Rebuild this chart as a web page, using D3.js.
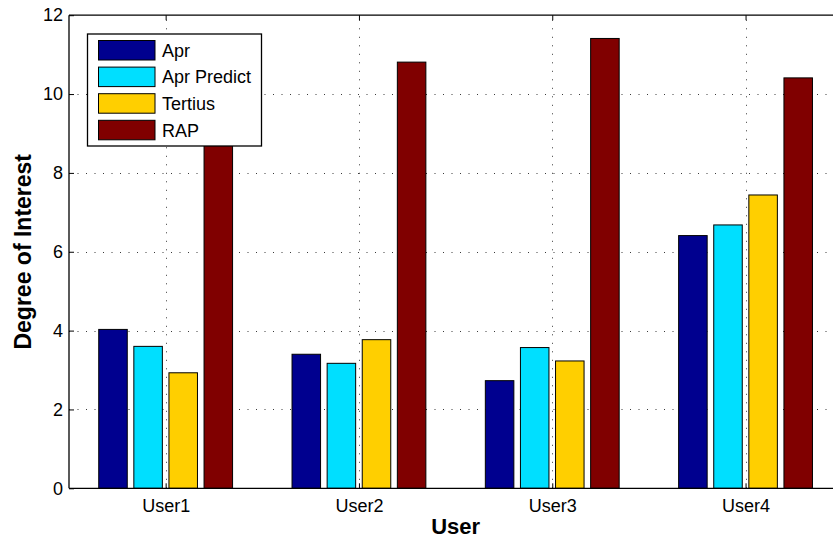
<!DOCTYPE html>
<html>
<head>
<meta charset="utf-8">
<script src="https://cdn.jsdelivr.net/npm/d3@7"></script>
<style>
  html, body { margin: 0; padding: 0; background: #fff; }
  svg { display: block; }
  text { font-family: "Liberation Sans", Arial, Helvetica, sans-serif; }
</style>
</head>
<body>
<svg id="chart" width="833" height="541"></svg>
<script>
// Degree of interest per user, four methods
const users = ["User1", "User2", "User3", "User4"];
const seriesNames = ["Apr", "Apr Predict", "Tertius", "RAP"];
const aprValues = [4.03, 3.40, 2.73, 6.41];
const aprPredictValues = [3.60, 3.17, 3.57, 6.68];
const tertiusValues = [2.93, 3.77, 3.23, 7.44];
const rapValues = [9.6, 10.81, 11.41, 10.41];
const seriesColors = ["#00008f", "#00dfff", "#ffcf00", "#800000"];
const yTicks = [0, 2, 4, 6, 8, 10, 12];

const seriesValues = [aprValues, aprPredictValues, tertiusValues, rapValues];

const svg = d3.select("#chart");
const plot = { left: 69, right: 842.2, top: 15.2, bottom: 488.3 };

// group positions 1..4 on a continuous axis running from 0.5 to 4.5
const x = d3.scaleLinear().domain([0.5, 4.5]).range([plot.left, plot.right]);
const y = d3.scaleLinear().domain([0, 12]).range([plot.bottom, plot.top]);

// bar offsets inside each group, in data units
const inner = d3.scaleBand()
  .domain(seriesNames)
  .range([-0.3632, 0.3632])
  .paddingInner(0.1875)
  .paddingOuter(0.09375);

const gridColor = "#3a3a3a";
const grid = svg.append("g").attr("class", "grid");

// horizontal dotted grid
grid.selectAll("line.h")
  .data(yTicks.filter(t => t > 0 && t < 12))
  .enter().append("line")
  .attr("x1", plot.left).attr("x2", plot.right)
  .attr("y1", d => Math.round(y(d)) + 0.5).attr("y2", d => Math.round(y(d)) + 0.5)
  .attr("stroke", gridColor).attr("stroke-width", 1)
  .attr("stroke-dasharray", "1,7.5");

// vertical dotted grid at each group
grid.selectAll("line.v")
  .data(users)
  .enter().append("line")
  .attr("x1", (d, i) => Math.round(x(i + 1)) + 0.5).attr("x2", (d, i) => Math.round(x(i + 1)) + 0.5)
  .attr("y1", plot.bottom).attr("y2", plot.top)
  .attr("stroke", gridColor).attr("stroke-width", 1)
  .attr("stroke-dasharray", "1,7.5");

// bars
const barRows = [];
users.forEach((u, gi) => {
  seriesNames.forEach((s, si) => {
    barRows.push({ group: gi + 1, series: s, value: seriesValues[si][gi], color: seriesColors[si] });
  });
});
const bw = x(inner.bandwidth()) - x(0);
svg.append("g").selectAll("rect")
  .data(barRows)
  .enter().append("rect")
  .attr("x", d => x(d.group + inner(d.series)))
  .attr("width", bw)
  .attr("y", d => y(d.value))
  .attr("height", d => y(0) - y(d.value))
  .attr("fill", d => d.color)
  .attr("stroke", "#000")
  .attr("stroke-width", 1);

// axes (ticks pointing inward)
const axisG = svg.append("g");
const leftAxis = d3.axisLeft(y).tickValues(yTicks).tickSize(-5).tickPadding(6).tickFormat(d3.format("d"));
const gl = axisG.append("g").attr("transform", `translate(${plot.left},0)`).call(leftAxis);
const bottomAxis = d3.axisBottom(x).tickValues([1, 2, 3, 4]).tickSize(-5).tickPadding(11)
  .tickFormat(d => users[d - 1]);
const gb = axisG.append("g").attr("transform", `translate(0,${plot.bottom})`).call(bottomAxis);
const topAxis = d3.axisTop(x).tickValues([1, 2, 3, 4]).tickSize(-5).tickFormat("");
const gt = axisG.append("g").attr("transform", `translate(0,${plot.top})`).call(topAxis);

[gl, gb, gt].forEach(g => {
  g.select(".domain").attr("stroke", "#000").attr("stroke-width", 1.3);
  g.selectAll(".tick line").attr("stroke", "#000");
  g.selectAll("text").attr("font-size", 18).attr("fill", "#000")
    .attr("font-family", "'Liberation Sans', Arial, sans-serif");
});
gl.select(".domain").attr("d", `M0,${plot.bottom}V${plot.top}`);
gb.select(".domain").attr("d", `M${plot.left},0H${plot.right}`);
gt.select(".domain").attr("d", `M${plot.left},0H${plot.right}`);

// axis titles
svg.append("text")
  .attr("x", (plot.left + plot.right) / 2)
  .attr("y", 534)
  .attr("text-anchor", "middle")
  .attr("font-size", 22).attr("font-weight", "bold")
  .text("User");
svg.append("text")
  .attr("transform", `translate(31,${(plot.top + plot.bottom) / 2}) rotate(-90)`)
  .attr("text-anchor", "middle")
  .attr("font-size", 23).attr("font-weight", "bold")
  .text("Degree of Interest");

// legend
const legend = svg.append("g");
legend.append("rect")
  .attr("x", 87.5).attr("y", 34).attr("width", 174).attr("height", 112)
  .attr("fill", "#fff").attr("stroke", "#000").attr("stroke-width", 1.3);
const items = legend.selectAll("g.item")
  .data(seriesNames)
  .enter().append("g")
  .attr("transform", (d, i) => `translate(0,${40.5 + i * 26.6})`);
items.append("rect")
  .attr("x", 98.5).attr("y", 0).attr("width", 56.5).attr("height", 19.5)
  .attr("fill", (d, i) => seriesColors[i])
  .attr("stroke", "#000").attr("stroke-width", 1);
items.append("text")
  .attr("x", 162).attr("y", 10)
  .attr("dy", "0.35em")
  .attr("font-size", 18)
  .text(d => d);
</script>
</body>
</html>
